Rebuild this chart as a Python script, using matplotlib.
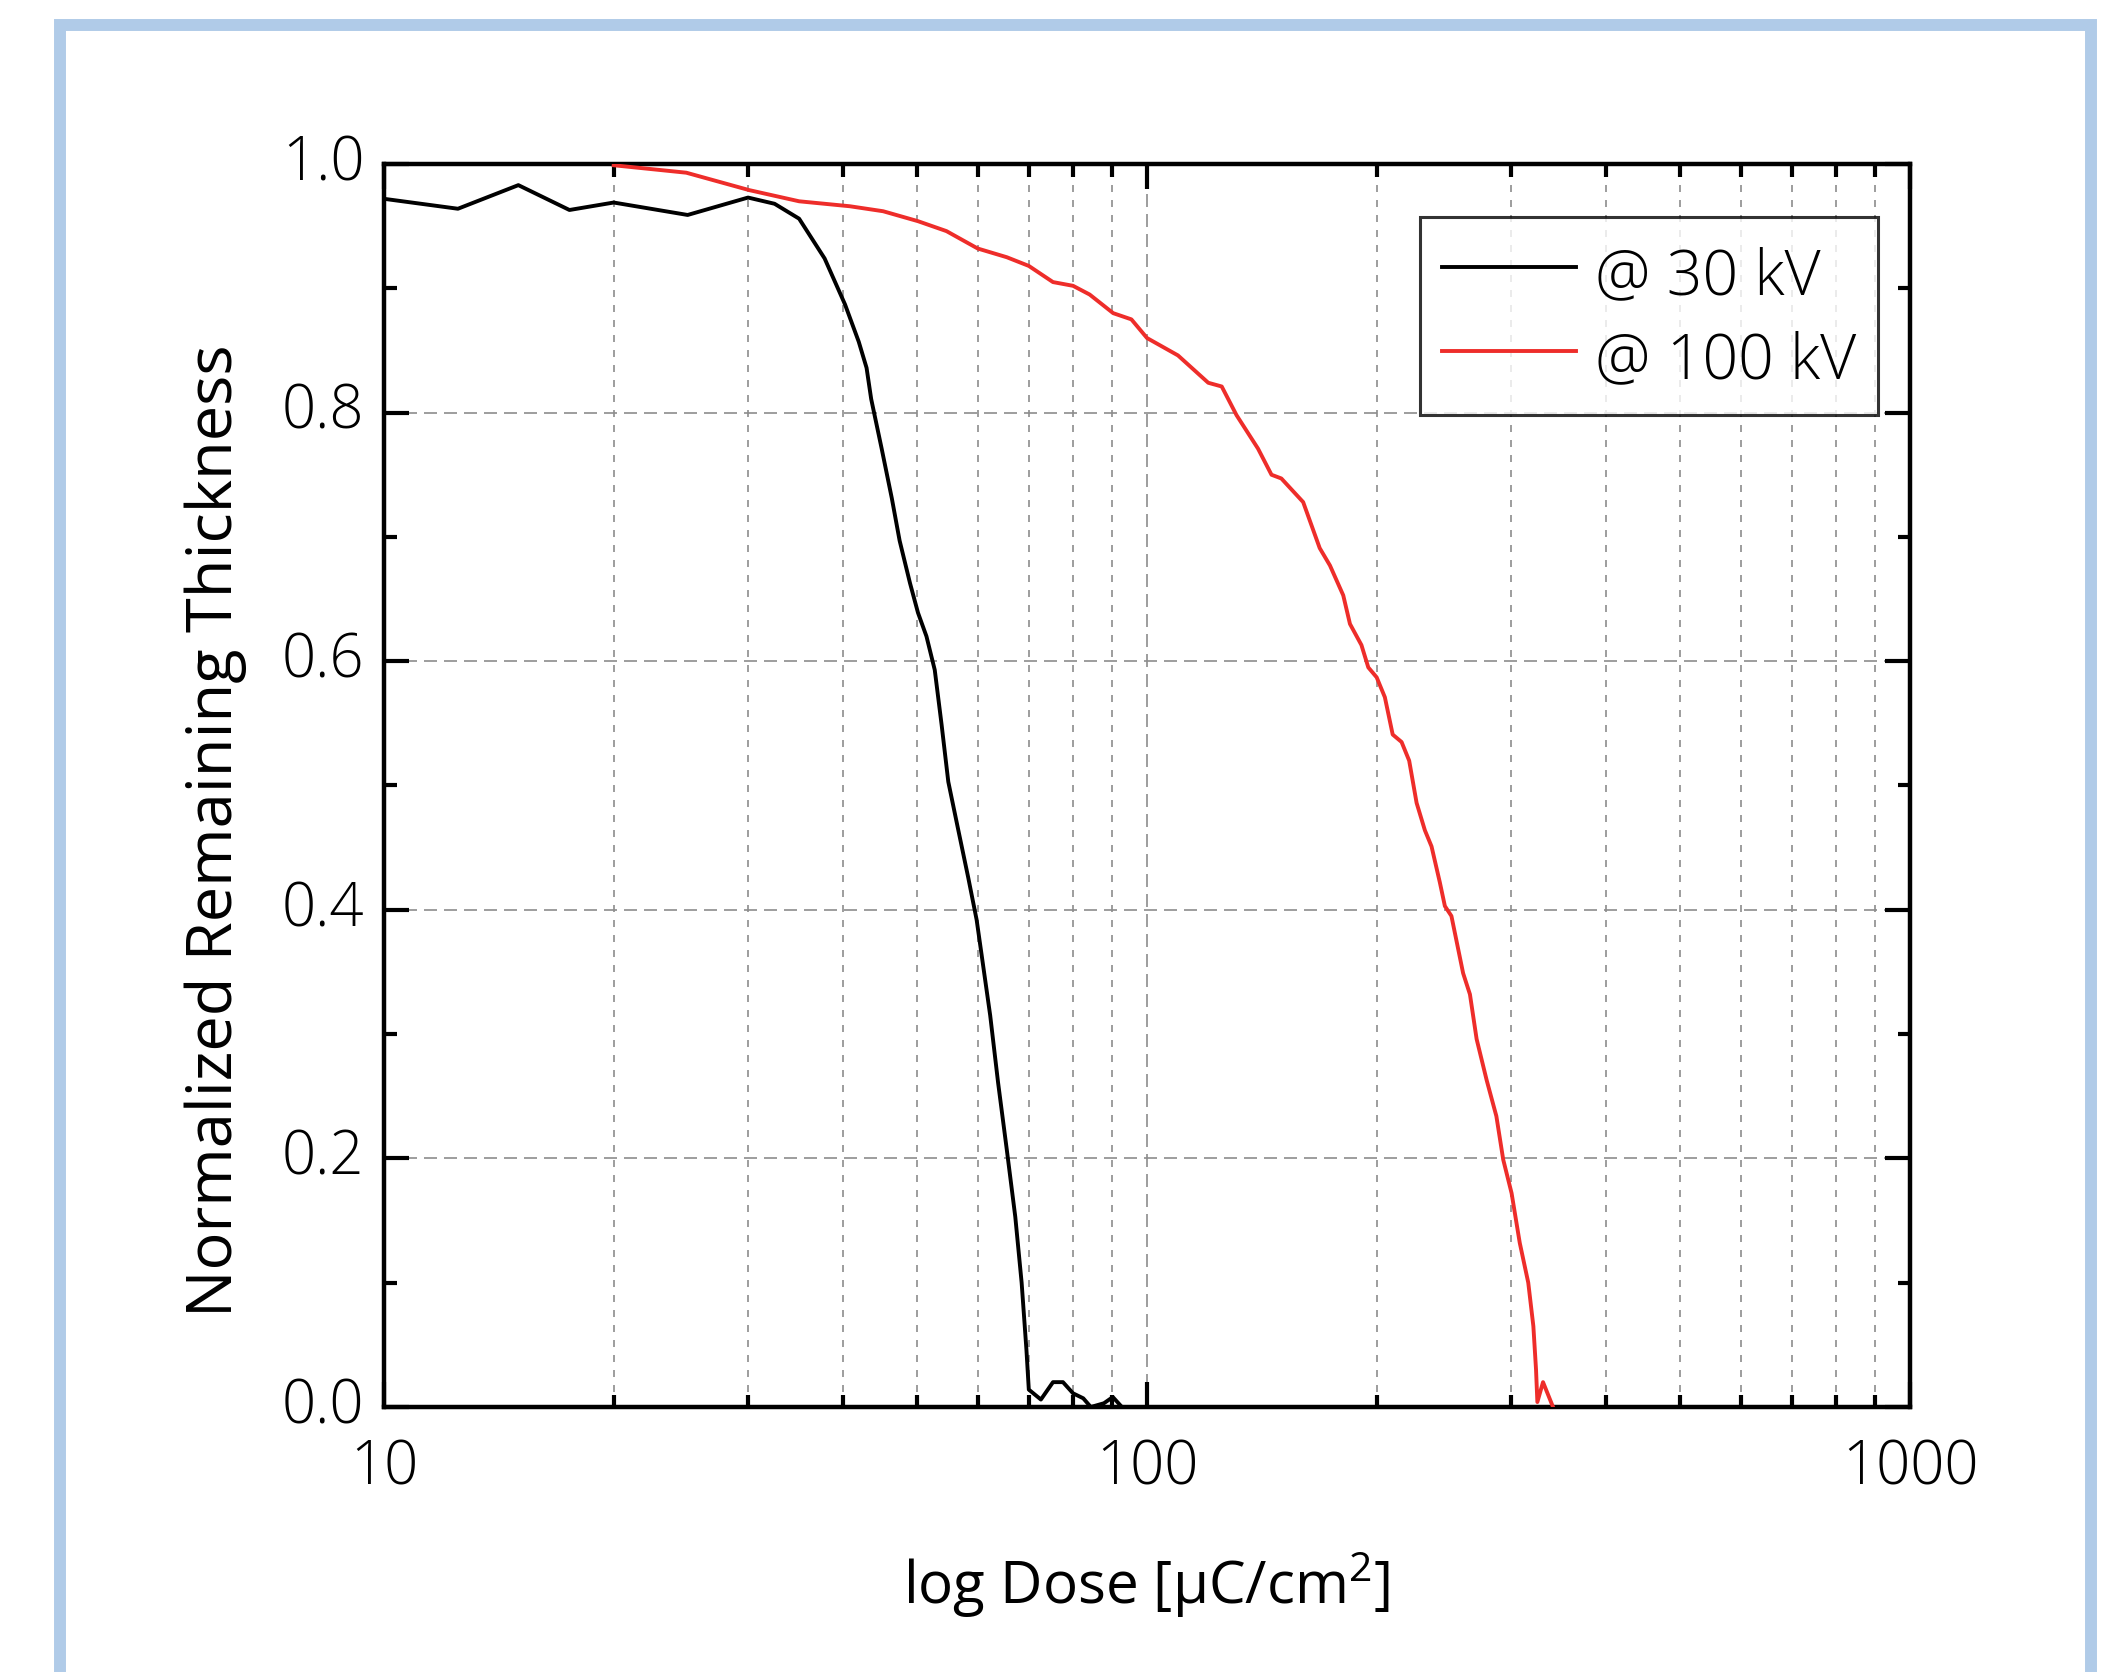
import matplotlib
matplotlib.use("Agg")
import matplotlib.pyplot as plt
from matplotlib.patches import Rectangle
from matplotlib.ticker import LogLocator, MultipleLocator, NullFormatter
from matplotlib.transforms import ScaledTranslation

# dose [uC/cm2] and normalized remaining thickness
dose_30kv = [10, 12.5, 15, 17.5, 20, 25, 30, 32.5, 35, 37.8, 40.2, 41.9, 42.9, 43.5,
             44.9, 46.3, 47.4, 48.9, 50.1, 51.4, 52.7, 53.8, 54.9, 56.5, 58.3, 59.8,
             60.7, 62.3, 63.8, 65.5, 67.2, 68.5, 69.5, 70, 72.6, 75.3, 77.6, 80, 82.5,
             84.4, 87.8, 90.2, 92.7]
thick_30kv = [0.972, 0.964, 0.983, 0.963, 0.969, 0.959, 0.973, 0.968, 0.956, 0.924,
              0.887, 0.857, 0.836, 0.811, 0.771, 0.731, 0.697, 0.663, 0.639, 0.620,
              0.593, 0.549, 0.503, 0.466, 0.426, 0.392, 0.364, 0.315, 0.261, 0.207,
              0.153, 0.100, 0.046, 0.014, 0.006, 0.020, 0.020, 0.011, 0.007, 0.0,
              0.003, 0.008, 0.0]

dose_100kv = [20, 24.9, 30.1, 35, 40.8, 45.1, 50.1, 54.6, 60, 65.5, 70, 75.3, 80, 84.1,
              90.3, 95.4, 100, 109.8, 120.3, 125.3, 131, 139.8, 145.6, 150, 160.2,
              168.4, 173.7, 180.8, 184.5, 191, 195, 200, 205, 209.9, 215.6, 220.6,
              225.6, 231.3, 236, 242, 245.7, 250.6, 259.6, 265, 270.4, 278.7, 287,
              293, 300.5, 308, 316, 320.9, 323.5, 324.8, 330.4, 340.5]
thick_100kv = [0.999, 0.993, 0.979, 0.970, 0.966, 0.962, 0.954, 0.946, 0.932, 0.925,
               0.918, 0.905, 0.902, 0.895, 0.880, 0.875, 0.860, 0.846, 0.824, 0.821,
               0.798, 0.771, 0.750, 0.747, 0.728, 0.691, 0.677, 0.653, 0.630, 0.613,
               0.595, 0.587, 0.571, 0.541, 0.535, 0.520, 0.486, 0.464, 0.451, 0.422,
               0.403, 0.395, 0.349, 0.332, 0.296, 0.263, 0.234, 0.199, 0.172, 0.132,
               0.100, 0.065, 0.030, 0.004, 0.020, 0.0]

series_labels = ["@ 30 kV", "@ 100 kV"]
x_ticks = [10, 100, 1000]
x_tick_labels = ["10", "100", "1000"]
y_ticks = [0.0, 0.2, 0.4, 0.6, 0.8, 1.0]

W, H = 2114, 1672
plt.rcParams["font.family"] = ["Open Sans", "DejaVu Sans"]
plt.rcParams["mathtext.fontset"] = "custom"
plt.rcParams["mathtext.rm"] = "Open Sans"

fig = plt.figure(figsize=(W / 100, H / 100), dpi=100)
ax = fig.add_axes([384 / W, 1 - 1407 / H, 1526 / W, 1243 / H])

# light blue frame around the figure (bottom edge runs off the canvas)
fig.patches.append(Rectangle((60 / W, -0.05), (2091 - 60) / W, 1.05 - 25.5 / H,
                             transform=fig.transFigure, fill=False,
                             ec="#b0cbe8", lw=8.6))

ax.plot(dose_30kv, thick_30kv, color="black", lw=2.8, label=series_labels[0], zorder=3)
ax.plot(dose_100kv, thick_100kv, color="#ee2d2a", lw=2.8, label=series_labels[1], zorder=3)

ax.set_xscale("log")
ax.set_xlim(10, 1000)
ax.set_ylim(0, 1.0)
ax.set_xticks(x_ticks, labels=x_tick_labels)
ax.xaxis.set_minor_locator(LogLocator(base=10, subs=range(2, 10)))
ax.xaxis.set_minor_formatter(NullFormatter())
ax.set_yticks(y_ticks, labels=["%.1f" % v for v in y_ticks])
ax.yaxis.set_minor_locator(MultipleLocator(0.1))

ax.grid(which="major", axis="x", color="#8c8c8c", lw=1.2, ls=(0, (7.8, 4.2)))
ax.grid(which="minor", axis="x", color="#8c8c8c", lw=1.2, ls=(0, (4.2, 4.8)))
ax.grid(which="major", axis="y", color="#8c8c8c", lw=1.2, ls=(0, (7.8, 4.2)))
ax.set_axisbelow(True)

for s in ax.spines.values():
    s.set_linewidth(3.2)
ax.tick_params(which="both", direction="in", top=True, right=True, width=3)
ax.tick_params(which="major", length=18, labelsize=43, pad=14)
ax.tick_params(which="minor", length=9)
ax.tick_params(axis="x", which="major", pad=22)
for lbl in ax.get_xticklabels() + ax.get_yticklabels():
    lbl.set_fontweight("light")
# y tick labels sit a little above the tick in the original
shift_up = ScaledTranslation(0, 5 / 72, fig.dpi_scale_trans)
for lbl in ax.get_yticklabels():
    lbl.set_transform(lbl.get_transform() + shift_up)

ax.set_xlabel(r"log Dose [μC/cm$^{2}$]", fontsize=42)
ax.xaxis.set_label_coords(0.5, -0.115)
ax.set_ylabel("Normalized Remaining Thickness", fontsize=45.5, fontweight="medium")
ax.yaxis.set_label_coords(-0.09, 0.464)

leg = ax.legend(loc="upper left", bbox_to_anchor=(0.679, 0.957), borderaxespad=0,
                fontsize=45, frameon=True, fancybox=False, edgecolor="black",
                handlelength=2.15, handleheight=1.3, handletextpad=0.3,
                labelspacing=0.22, borderpad=0.35)
leg.get_frame().set_linewidth(2.2)
for t in leg.get_texts():
    t.set_fontweight("light")

fig.savefig("out.png", dpi=100, facecolor="white")
